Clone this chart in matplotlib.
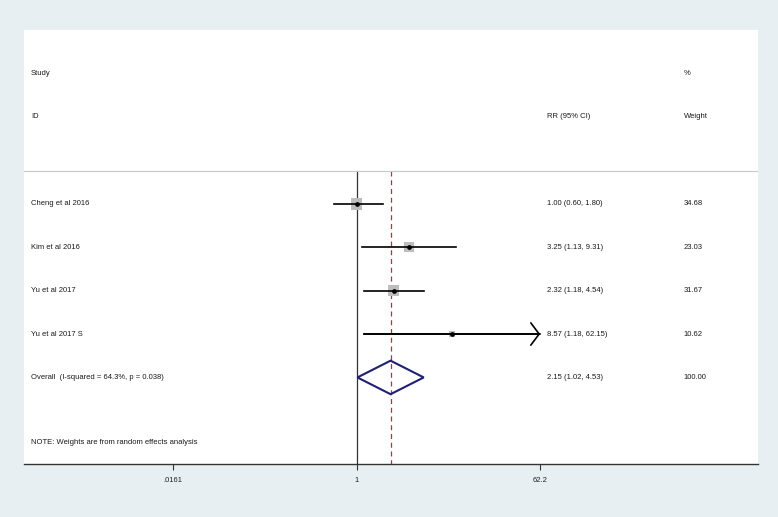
import numpy as np
import matplotlib
matplotlib.use("Agg")
import matplotlib.pyplot as plt
from matplotlib.patches import Polygon

plt.rcParams['font.family'] = ['Liberation Sans', 'DejaVu Sans']

# ---- data ----
studies = ["Cheng et al 2016", "Kim et al 2016", "Yu et al 2017", "Yu et al 2017 S"]
rr = [1.00, 3.25, 2.32, 8.57]
lo = [0.60, 1.13, 1.18, 1.18]
hi = [1.80, 9.31, 4.54, 62.15]
weights = [34.68, 23.03, 31.67, 10.62]
overall_label = "Overall  (I-squared = 64.3%, p = 0.038)"
overall = [2.15, 1.02, 4.53]
overall_weight = 100.00
tick_vals = [0.0161, 1, 62.2]
tick_labels = [".0161", "1", "62.2"]
note = "NOTE: Weights are from random effects analysis"

bg = "#e8eff2"
fig = plt.figure(figsize=(7.78, 5.17), dpi=100, facecolor=bg)
W, H = 778, 517
left, right, top, bottom = 24, 758, 30, 464.3
ax = fig.add_axes([left / W, 1 - bottom / H, (right - left) / W, (bottom - top) / H])
ax.set_facecolor("white")

ax.set_xscale("log")
ax.set_xlim(np.exp(-7.477), np.exp(9.027))
ax.set_ylim(7.0, -3.0)

for s in ["top", "right", "left"]:
    ax.spines[s].set_visible(False)
ax.spines["bottom"].set_color("#333333")
ax.spines["bottom"].set_linewidth(1.0)
ax.set_yticks([])
ax.set_xticks(tick_vals)
ax.set_xticklabels(tick_labels)
ax.xaxis.set_minor_locator(matplotlib.ticker.NullLocator())
ax.tick_params(axis="x", direction="out", length=4, width=0.8, color="#333333",
               labelsize=5.5, labelcolor="#222222", pad=5)

fs = 5.5
tc = "#1a1a1a"
tr = ax.get_yaxis_transform()  # x in axes fraction, y in data
x_study, x_rr, x_w = 0.0095, 0.712, 0.899

ax.text(x_study, -2, "Study", transform=tr, fontsize=fs, va="center", ha="left", color=tc)
ax.text(x_study, -1, "ID", transform=tr, fontsize=fs, va="center", ha="left", color=tc)
ax.text(x_rr, -1, "RR (95% CI)", transform=tr, fontsize=fs, va="center", ha="left", color=tc)
ax.text(x_w, -2, "%", transform=tr, fontsize=fs, va="center", ha="left", color=tc)
ax.text(x_w, -1, "Weight", transform=tr, fontsize=fs, va="center", ha="left", color=tc)

# separator
sep = 0.25
ax.axhline(sep, color="#c8c8c8", lw=0.8)

# reference lines
ax.plot([1, 1], [sep, 7.0], color="#333333", lw=0.9, zorder=1)
ax.plot([overall[0], overall[0]], [sep, 7.0], color="#b8303c", lw=0.9,
        ls=(0, (4, 3)), zorder=1)

xmax_axis = tick_vals[-1]
rows = np.arange(1, len(studies) + 1)
for i, y in enumerate(rows):
    ax.scatter([rr[i]], [y], marker="s", s=2.0 * weights[i], color="#bdbdbd",
               edgecolors="none", zorder=2)
    ax.plot([lo[i], hi[i]], [y, y], color="black", lw=1.2, zorder=3)
    if hi[i] >= xmax_axis * 0.99:
        ax.annotate("", xy=(hi[i], y), xytext=(lo[i], y),
                    arrowprops=dict(arrowstyle="->, head_length=0.6, head_width=0.8",
                                    color="black", lw=1.2, shrinkA=0, shrinkB=0,
                                    mutation_scale=10), zorder=3)
    ax.plot([rr[i]], [y], marker="o", ms=2.4, color="black", zorder=4)
    ax.text(x_study, y, studies[i], transform=tr, fontsize=fs, va="center", ha="left", color=tc)
    ax.text(x_rr, y, f"{rr[i]:.2f} ({lo[i]:.2f}, {hi[i]:.2f})", transform=tr,
            fontsize=fs, va="center", ha="left", color=tc)
    ax.text(x_w, y, f"{weights[i]:.2f}", transform=tr, fontsize=fs, va="center",
            ha="left", color=tc)

yo = len(studies) + 1
hh = 0.386
diamond = Polygon([[overall[1], yo], [overall[0], yo - hh], [overall[2], yo],
                   [overall[0], yo + hh]], closed=True, fill=False,
                  edgecolor="#1f2070", lw=1.5, zorder=3)
ax.add_patch(diamond)
ax.text(x_study, yo, overall_label, transform=tr, fontsize=fs, va="center", ha="left", color=tc)
ax.text(x_rr, yo, f"{overall[0]:.2f} ({overall[1]:.2f}, {overall[2]:.2f})", transform=tr,
        fontsize=fs, va="center", ha="left", color=tc)
ax.text(x_w, yo, f"{overall_weight:.2f}", transform=tr, fontsize=fs, va="center",
        ha="left", color=tc)

ax.text(x_study, 6.5, note, transform=tr, fontsize=fs, va="center", ha="left", color=tc)

fig.savefig("out.png", dpi=100, facecolor=bg)
